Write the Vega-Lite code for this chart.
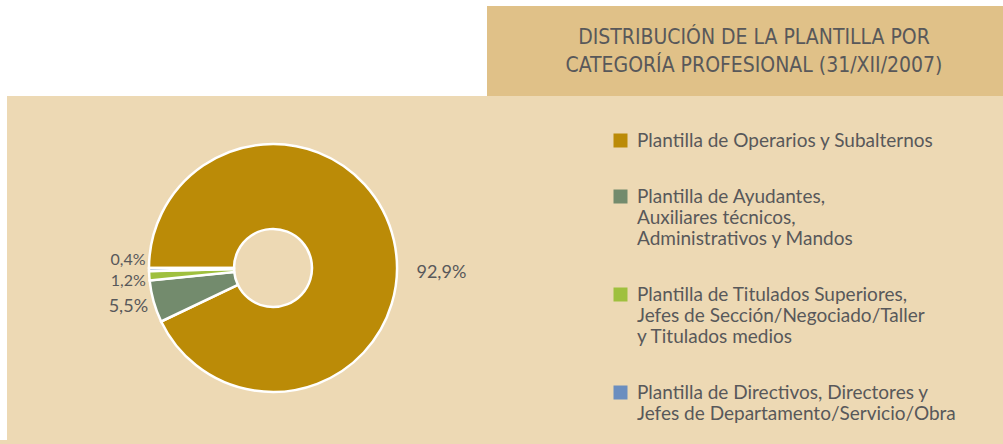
{
  "$schema": "https://vega.github.io/schema/vega-lite/v6.json",
  "background": "#edd9b4",
  "padding": {"left": 0, "top": 0, "right": 0, "bottom": 4},
  "config": {
    "view": {"stroke": null},
    "locale": {"number": {"decimal": ",", "thousands": ".", "grouping": [3], "currency": ["", " €"]}}
  },
  "spacing": 0,
  "vconcat": [
    {
      "spacing": 0,
      "hconcat": [
        {
          "width": 487, "height": 96,
          "view": {"fill": "white", "stroke": null},
          "data": {"values": []},
          "mark": {"type": "text"}
        },
        {
          "spacing": 0,
          "vconcat": [
            {
              "width": 516, "height": 6,
              "view": {"fill": "white", "stroke": null},
              "data": {"values": []},
              "mark": {"type": "text"}
            },
            {
              "width": 516, "height": 90,
              "view": {"fill": "#e0c188", "stroke": null},
              "data": {"values": [{"titulo": ["DISTRIBUCIÓN DE LA PLANTILLA POR", "CATEGORÍA PROFESIONAL (31/XII/2007)"]}]},
              "mark": {"type": "text", "font": "Liberation Sans Narrow, DejaVu Sans Condensed, sans-serif", "fontSize": 21, "lineHeight": 28, "color": "#58585a", "align": "center", "baseline": "middle", "dx": 9, "dy": -13},
              "encoding": {"text": {"field": "titulo", "type": "nominal"}}
            }
          ]
        }
      ]
    },
    {
      "spacing": 0,
      "bounds": "flush",
      "hconcat": [
        {
          "width": 7, "height": 344,
          "view": {"fill": "white", "stroke": null},
          "data": {"values": []},
          "mark": {"type": "text"}
        },
        {
          "width": 532, "height": 344,
          "data": {"values": [
            {"categoria": "Plantilla de Operarios y Subalternos", "proporcion": 0.929, "orden": 1},
            {"categoria": "Plantilla de Ayudantes,\nAuxiliares técnicos,\nAdministrativos y Mandos", "proporcion": 0.055, "orden": 2},
            {"categoria": "Plantilla de Titulados Superiores,\nJefes de Sección/Negociado/Taller\ny Titulados medios", "proporcion": 0.012, "orden": 3},
            {"categoria": "Plantilla de Directivos, Directores y\nJefes de Departamento/Servicio/Obra", "proporcion": 0.004, "orden": 4}
          ]},
          "encoding": {
            "theta": {"field": "proporcion", "type": "quantitative", "stack": true, "scale": {"range": [4.71238898, 10.99557429]}},
            "order": {"field": "orden", "type": "quantitative"}
          },
          "layer": [
            {
              "mark": {"type": "arc", "innerRadius": 39, "outerRadius": 124, "stroke": "white", "strokeWidth": 2.5},
              "encoding": {
                "color": {
                  "field": "categoria", "type": "nominal",
                  "scale": {
                    "domain": [
                      "Plantilla de Operarios y Subalternos",
                      "Plantilla de Ayudantes,\nAuxiliares técnicos,\nAdministrativos y Mandos",
                      "Plantilla de Titulados Superiores,\nJefes de Sección/Negociado/Taller\ny Titulados medios",
                      "Plantilla de Directivos, Directores y\nJefes de Departamento/Servicio/Obra"
                    ],
                    "range": ["#bb8b07", "#738b6d", "#9fc03e", "#6b8ebf"]
                  },
                  "legend": {
                    "orient": "none", "legendX": 611, "legendY": 131,
                    "title": null,
                    "symbolType": "square", "symbolSize": 196, "symbolStrokeWidth": 0, "symbolOpacity": 1,
                    "labelFont": "Lato", "labelFontSize": 19, "labelColor": "#58585a", "labelLimit": 0,
                    "labelOffset": 7, "rowPadding": 36,
                    "labelExpr": "split(datum.label, '\\n')"
                  }
                }
              }
            },
            {
              "mark": {
                "type": "text", "radius": 145, "font": "Lato", "color": "#58585a",
                "align": "center", "baseline": "middle",
                "fontSize": {"expr": "datum.orden >= 3 ? 16 : 18"},
                "dx": {"expr": "datum.orden == 1 ? 27 : datum.orden == 2 ? -5 : 0"},
                "dy": {"expr": "datum.orden == 1 ? 37 : datum.orden == 3 ? 4 : datum.orden == 4 ? -10 : 0"}
              },
              "encoding": {
                "text": {"field": "proporcion", "type": "quantitative", "format": ".1%"}
              }
            }
          ]
        }
      ]
    }
  ]
}
